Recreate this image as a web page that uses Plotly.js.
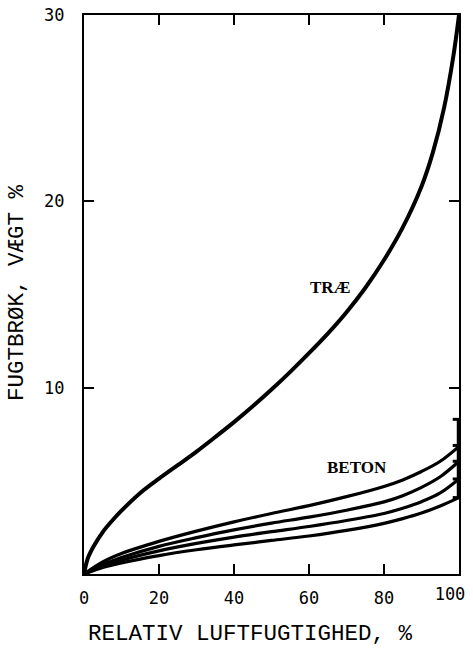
<!DOCTYPE html>
<html>
<head>
<meta charset="utf-8">
<script src="https://cdn.plot.ly/plotly-3.0.1.min.js"></script>
<style>html,body{margin:0;padding:0;background:#fff;}#chart{width:473px;height:648px;}</style>
</head>
<body>
<div id="chart"></div>
<script>
// TRÆ (wood) sorption curve
const traeX = [0, 1, 2.5, 5, 7.5, 10, 15, 20, 25, 30, 35, 40, 45, 50, 55, 60, 65, 70, 75, 80, 85, 90, 93, 96, 98.5, 100];
const traeY = [0, 0.83, 1.46, 2.25, 2.86, 3.4, 4.35, 5.12, 5.84, 6.57, 7.35, 8.15, 9.0, 9.9, 10.85, 11.85, 12.9, 14.05, 15.35, 16.85, 18.6, 20.8, 22.6, 25.0, 27.8, 30];
// BETON (concrete) curves
const betonX = [0, 5, 10, 20, 30, 40, 50, 60, 70, 80, 85, 90, 95, 100];
const beton1 = [0, 0.65, 1.1, 1.75, 2.3, 2.8, 3.25, 3.67, 4.15, 4.7, 5.05, 5.5, 6.05, 6.85];
const beton2 = [0, 0.5, 0.88, 1.48, 1.95, 2.37, 2.73, 3.05, 3.42, 3.87, 4.2, 4.65, 5.22, 6.05];
const beton3 = [0, 0.42, 0.74, 1.24, 1.64, 1.98, 2.27, 2.55, 2.87, 3.25, 3.53, 3.88, 4.35, 5.1];
const beton4 = [0, 0.35, 0.6, 0.99, 1.3, 1.56, 1.8, 2.04, 2.34, 2.72, 2.97, 3.27, 3.65, 4.1];
// range bar at 100 %
const barX = [100, 100, 100, 100, 100];
const barY = [4.1, 5.1, 6.05, 6.9, 8.3];
// ticks
const xTicks = [0, 20, 40, 60, 80, 100];
const xTickText = ['0', '20', '40', '60', '80', ''];
const xEndTick = [100];
const xEndText = ['100'];
const yTicks = [10, 20, 30];
const yTickText = ['10', '20', '30'];

const lineStyle = w => ({color: '#000', width: w, shape: 'spline', smoothing: 1});
const traces = [
  {x: traeX, y: traeY, mode: 'lines', line: lineStyle(4)},
  {x: betonX, y: beton1, mode: 'lines', line: lineStyle(3.2)},
  {x: betonX, y: beton2, mode: 'lines', line: lineStyle(3.2)},
  {x: betonX, y: beton3, mode: 'lines', line: lineStyle(3.2)},
  {x: betonX, y: beton4, mode: 'lines', line: lineStyle(3.2)},
  {x: barX, y: barY, xaxis: 'x2', mode: 'lines+markers', line: {color: '#000', width: 4.5},
   marker: {symbol: 'line-ew', size: 9, line: {color: '#000', width: 3}}}
];

const tickFont = {family: 'DejaVu Sans Mono, monospace', size: 17, color: '#000'};
const layout = {
  width: 473, height: 648,
  margin: {l: 84, r: 14, t: 15, b: 74},
  paper_bgcolor: '#fff', plot_bgcolor: '#fff',
  showlegend: false,
  xaxis: {
    range: [0, 100], tickvals: xTicks, ticktext: xTickText,
    ticks: 'inside', ticklen: 10, tickwidth: 2, tickcolor: '#000',
    showline: true, linewidth: 2, linecolor: '#000', mirror: 'ticks',
    showgrid: false, zeroline: false, tickfont: tickFont, ticklabelstandoff: 8
  },
  xaxis2: {
    overlaying: 'x', anchor: 'y', side: 'bottom',
    range: [0, 100], tickvals: xEndTick, ticktext: xEndText,
    ticks: '', showline: false, showgrid: false, zeroline: false,
    tickfont: tickFont, ticklabelstandoff: 8, ticklabelshift: -9, ticklabeloverflow: 'allow'
  },
  yaxis: {
    range: [0, 30], tickvals: yTicks, ticktext: yTickText,
    ticks: 'inside', ticklen: 10, tickwidth: 2, tickcolor: '#000',
    showline: true, linewidth: 2, linecolor: '#000', mirror: 'ticks',
    showgrid: false, zeroline: false, tickfont: tickFont, ticklabelstandoff: 14
  },
  annotations: [
    {text: 'RELATIV LUFTFUGTIGHED, %', xref: 'paper', yref: 'paper', x: 0.443, y: -0.108,
     xanchor: 'center', yanchor: 'middle', showarrow: false,
     font: {family: 'Liberation Mono, Courier New, monospace', size: 22.5, color: '#000'}},
    {text: 'FUGTBRØK, VÆGT %', xref: 'paper', yref: 'paper', x: -0.178, y: 0.503,
     xanchor: 'center', yanchor: 'middle', showarrow: false, textangle: -90,
     font: {family: 'Liberation Mono, Courier New, monospace', size: 22.5, color: '#000'}},
    {text: '<b>TRÆ</b>', x: 65.6, y: 15.35, showarrow: false, xanchor: 'center', yanchor: 'middle',
     font: {family: 'Liberation Serif, serif', size: 17, color: '#000'}},
    {text: '<b>BETON</b>', x: 72.8, y: 5.74, showarrow: false, xanchor: 'center', yanchor: 'middle',
     font: {family: 'Liberation Serif, serif', size: 17, color: '#000'}}
  ]
};
Plotly.newPlot('chart', traces, layout, {displayModeBar: false, staticPlot: true});
</script>
</body>
</html>
